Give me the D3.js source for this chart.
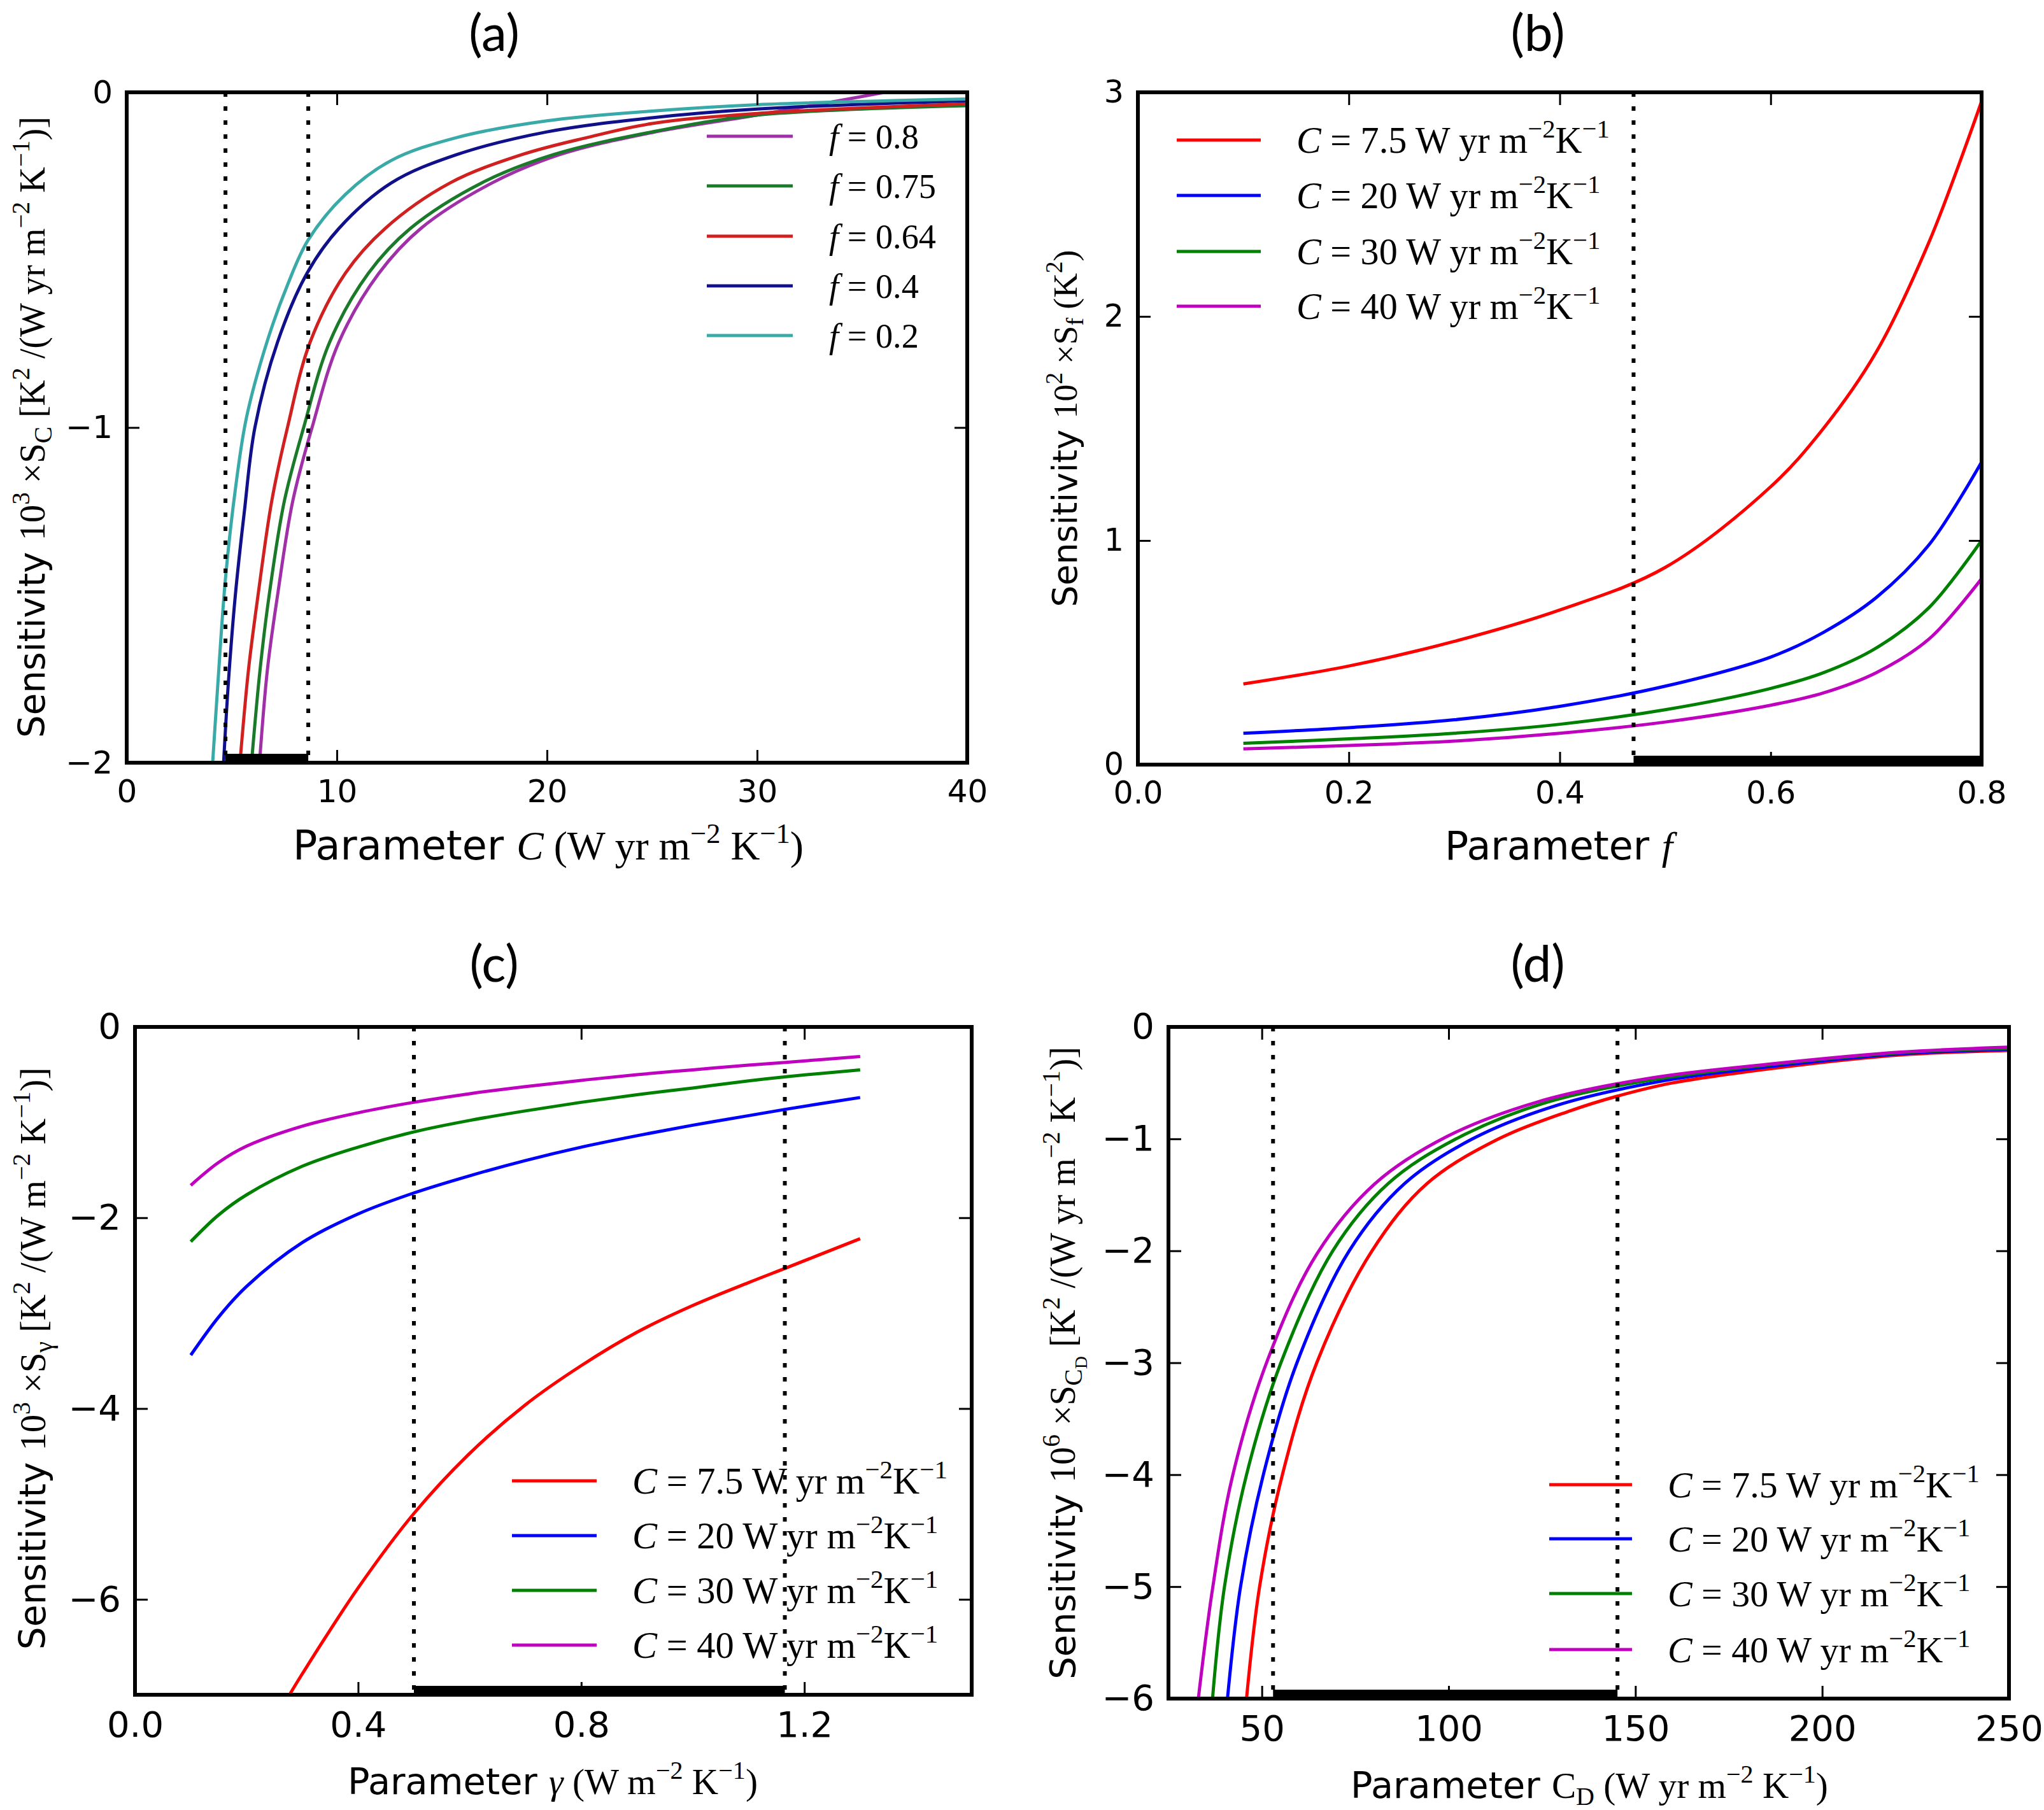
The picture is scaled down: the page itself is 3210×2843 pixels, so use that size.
<!DOCTYPE html>
<html><head><meta charset="utf-8">
<script src="https://cdn.jsdelivr.net/npm/d3@7"></script>
<style>body{margin:0;background:#fff} text{white-space:pre}</style>
</head><body>
<svg id="chart" width="3210" height="2843"></svg>
<script>
// ---------------- DATA ----------------
// Panel (a): sensitivity vs C for several f
const aXTicks = [0, 10, 20, 30, 40];
const aYTicks = [0, -1, -2];
const aLegend = ["0.8", "0.75", "0.64", "0.4", "0.2"];
const a_f08 = [[6.32,-2],[6.7,-1.72],[7.18,-1.5],[7.9,-1.22],[8.82,-1.0],[10.1,-0.745],[12.0,-0.54],[14.0,-0.406],[17.4,-0.27],[20.6,-0.186],[25,-0.12],[30,-0.068],[33,-0.035],[36.5,0.005]];
const a_f075 = [[5.94,-2],[6.35,-1.72],[6.78,-1.5],[7.5,-1.22],[8.42,-1.0],[9.66,-0.745],[11.5,-0.54],[13.5,-0.406],[16.9,-0.27],[20.3,-0.186],[25,-0.118],[30,-0.068],[40,-0.04]];
const a_f064 = [[5.39,-2],[5.8,-1.72],[6.25,-1.5],[6.9,-1.22],[7.65,-1.0],[8.73,-0.745],[10.4,-0.54],[12.3,-0.406],[15.4,-0.27],[18.8,-0.186],[21.9,-0.135],[25,-0.093],[30,-0.063],[40,-0.034]];
const a_f04 = [[4.61,-2],[4.85,-1.75],[5.17,-1.5],[5.6,-1.25],[6.1,-1.0],[7.18,-0.745],[8.58,-0.54],[10.1,-0.406],[12.6,-0.27],[15.7,-0.186],[20,-0.118],[25,-0.076],[30,-0.05],[40,-0.025]];
const a_f02 = [[4.09,-2],[4.3,-1.8],[4.7,-1.45],[5.2,-1.17],[5.7,-0.97],[6.7,-0.74],[7.65,-0.575],[8.64,-0.44],[10.4,-0.305],[12.6,-0.203],[15.7,-0.135],[20,-0.085],[25,-0.056],[30,-0.037],[40,-0.02]];
const aVLines = [4.7, 8.64];
const aBar = [4.7, 8.64];

// Panel (b): sensitivity vs f for several C
const bXTicks = [0.0, 0.2, 0.4, 0.6, 0.8];
const bYTicks = [0, 1, 2, 3];
const bF = [0.1, 0.2, 0.3, 0.4, 0.5, 0.6, 0.65, 0.7, 0.75, 0.8];
const b_C75 = [0.36, 0.44, 0.55, 0.69, 0.88, 1.24, 1.50, 1.84, 2.33, 2.96];
const b_C20 = [0.14, 0.165, 0.20, 0.26, 0.35, 0.48, 0.59, 0.745, 0.98, 1.35];
const b_C30 = [0.095, 0.115, 0.14, 0.18, 0.245, 0.34, 0.41, 0.52, 0.70, 1.0];
const b_C40 = [0.07, 0.085, 0.105, 0.14, 0.19, 0.265, 0.32, 0.41, 0.56, 0.83];
const bVLines = [0.47];
const bBar = [0.47, 0.8];

// Panel (c): sensitivity vs gamma
const cXTicks = [0.0, 0.4, 0.8, 1.2];
const cYTicks = [0, -2, -4, -6];
const cG = [0.1, 0.15, 0.2, 0.3, 0.4, 0.5, 0.6, 0.7, 0.8, 0.9, 1.0, 1.1, 1.17, 1.3];
const c_C40 = [-1.66, -1.42, -1.25, -1.04, -0.90, -0.79, -0.70, -0.625, -0.56, -0.50, -0.45, -0.40, -0.37, -0.31];
const c_C30 = [-2.25, -1.97, -1.76, -1.46, -1.26, -1.10, -0.98, -0.88, -0.79, -0.71, -0.64, -0.565, -0.52, -0.45];
const c_C20 = [-3.44, -3.04, -2.72, -2.26, -1.96, -1.74, -1.56, -1.40, -1.26, -1.14, -1.03, -0.93, -0.86, -0.74];
const cG75 = [0.277, 0.3, 0.4, 0.5, 0.6, 0.7, 0.8, 0.9, 1.0, 1.1, 1.17, 1.3];
const c_C75 = [-7.0, -6.78, -5.88, -5.1, -4.47, -3.96, -3.55, -3.2, -2.92, -2.68, -2.52, -2.22];
const cVLines = [0.5, 1.165];
const cBar = [0.5, 1.165];

// Panel (d): sensitivity vs C_D
const dXTicks = [50, 100, 150, 200, 250];
const dYTicks = [0, -1, -2, -3, -4, -5, -6];
const d_C75 = [[45.9,-6],[49.4,-5],[55.5,-4],[64.7,-3],[79.5,-2],[94.2,-1.4],[113.4,-1.0],[132.5,-0.75],[145,-0.62],[160,-0.5],[191.7,-0.35],[221,-0.25],[250,-0.21]];
const d_C20 = [[40.8,-6],[44.3,-5],[50.4,-4],[59.4,-3],[73.4,-2],[88.2,-1.4],[106.4,-1.0],[129,-0.7],[157.8,-0.48],[190,-0.34],[221,-0.24],[250,-0.2]];
const d_C30 = [[36.8,-6],[40.0,-5],[45.9,-4],[55.1,-3],[69.0,-2],[83.8,-1.4],[102,-1.0],[125.6,-0.68],[155,-0.47],[188,-0.33],[221,-0.23],[250,-0.19]];
const d_C40 = [[33.0,-6],[36.8,-5.02],[42.1,-4.02],[51.6,-2.97],[64.7,-2.03],[80.3,-1.40],[99.5,-0.98],[123.8,-0.67],[153.4,-0.46],[186.5,-0.33],[221,-0.225],[250,-0.18]];
const dVLines = [53, 145.2];
const dBar = [53, 145.2];

const cLegend = ["7.5", "20", "30", "40"];

// ---------------- RENDER ----------------
const SANS = "'DejaVu Sans', sans-serif";
const SERIF = "'Liberation Serif', 'DejaVu Serif', serif";
const TITLE = "Lato, 'Open Sans', sans-serif";
const svg = d3.select('#chart');
svg.append('rect').attr('width', 3210).attr('height', 2843).attr('fill', '#fff');

function rich(g, parts, fs, o) {
  const t = g.append('text').attr('text-anchor', o.anchor || 'middle').attr('fill', '#000');
  const shift = 0.35 * fs;
  if (o.rotate) t.attr('transform', `translate(${o.x + shift},${o.y}) rotate(-90)`);
  else t.attr('transform', `translate(${o.x},${o.y + shift})`);
  let cur = 0;
  parts.forEach(p => {
    const k = p.sup || p.sub ? 0.7 : p.subsub ? 0.5 : 1;
    const off = p.sup ? -0.42 * fs : p.sub ? 0.2 * fs : p.subsub ? 0.34 * fs : 0;
    t.append('tspan').text(p.t)
      .attr('font-family', p.f === 'sans' ? SANS : SERIF)
      .attr('font-style', p.i ? 'italic' : 'normal')
      .attr('font-size', fs * k)
      .attr('dy', off - cur);
    cur = off;
  });
  return t;
}
function fitRich(g, parts, target, o) {
  const t = rich(g, parts, 50, o);
  const len = t.node().getComputedTextLength();
  t.remove();
  const fs = 50 * target / len;
  rich(g, parts, fs, o);
  return fs;
}
const unitsWyr = [{t:' (W yr m'},{t:'−2',sup:1},{t:' K'},{t:'−1',sup:1},{t:')'}];
const legC = v => [{t:'C',i:1},{t:' = '+v+' W yr m'},{t:'−2',sup:1},{t:'K'},{t:'−1',sup:1}];

const colA = ['#a030a8', '#1a7a2a', '#d02020', '#10108a', '#3aaaa8'];
const colC = ['#ff0000', '#0000ff', '#008000', '#bf00bf'];
const zip = (xs, ys) => xs.map((v, i) => [v, ys[i]]);

const panels = [
  { id:'a', l:199, r:1519, t:145, b:1198, xDom:[0,40], yDom:[-2,0], xTicks:aXTicks, yTicks:aYTicks,
    xFmt:d3.format('d'), yFmt:d3.format('d'), tfs:50, title:'(a)', tx:776, ty:80,
    series:[a_f08,a_f075,a_f064,a_f04,a_f02].map((d,i)=>({data:d,color:colA[i]})),
    vlines:aVLines, bar:aBar,
    ylab:{parts:[{t:'Sensitivity ',f:'sans'},{t:'10'},{t:'3',sup:1},{t:' ×S'},{t:'C',sub:1},{t:' [K'},{t:'2',sup:1},{t:' /(W yr m'},{t:'−2',sup:1},{t:' K'},{t:'−1',sup:1},{t:')]'}], x:50, y:671, len:976},
    xlab:{parts:[{t:'Parameter ',f:'sans'},{t:'C',i:1}].concat(unitsWyr), x:861, y:1328, len:802},
    legend:{x1:1110, x2:1245, tx:1302, rows:[214,292,371,449,527], colors:colA,
      labels:aLegend.map(v=>[{t:'f',i:1},{t:' = '+v}]), fitIdx:1, fitLen:168} },
  { id:'b', l:1787, r:3112, t:145, b:1201, xDom:[0,0.8], yDom:[0,3], xTicks:bXTicks, yTicks:bYTicks,
    xFmt:d3.format('.1f'), yFmt:d3.format('d'), tfs:49, title:'(b)', tx:2415, ty:80,
    series:[b_C75,b_C20,b_C30,b_C40].map((d,i)=>({data:zip(bF,d),color:colC[i]})),
    vlines:bVLines, bar:bBar,
    ylab:{parts:[{t:'Sensitivity ',f:'sans'},{t:'10'},{t:'2',sup:1},{t:' ×S'},{t:'f',sub:1},{t:' (K'},{t:'2',sup:1},{t:')'}], x:1672, y:673, len:561},
    xlab:{parts:[{t:'Parameter ',f:'sans'},{t:'f',i:1}], x:2448, y:1328, len:358},
    legend:{x1:1848, x2:1980, tx:2036, rows:[220,307,395,481], colors:colC,
      labels:cLegend.map(legC), fitIdx:0, fitLen:492} },
  { id:'c', l:212, r:1526, t:1613, b:2662, xDom:[0,1.5], yDom:[-7,0], xTicks:cXTicks, yTicks:cYTicks,
    xFmt:d3.format('.1f'), yFmt:d3.format('d'), tfs:56, title:'(c)', tx:776, ty:1542,
    series:[zip(cG75,c_C75),zip(cG,c_C20),zip(cG,c_C30),zip(cG,c_C40)].map((d,i)=>({data:d,color:colC[i]})),
    vlines:cVLines, bar:cBar,
    ylab:{parts:[{t:'Sensitivity ',f:'sans'},{t:'10'},{t:'3',sup:1},{t:' ×S'},{t:'γ',sub:1},{t:' [K'},{t:'2',sup:1},{t:' /(W m'},{t:'−2',sup:1},{t:' K'},{t:'−1',sup:1},{t:')]'}], x:51, y:2134, len:915},
    xlab:{parts:[{t:'Parameter ',f:'sans'},{t:'γ',i:1},{t:' (W m'},{t:'−2',sup:1},{t:' K'},{t:'−1',sup:1},{t:')'}], x:868, y:2798, len:644},
    legend:{x1:804, x2:937, tx:993, rows:[2326,2412,2498,2584], colors:colC,
      labels:cLegend.map(legC), fitIdx:0, fitLen:495} },
  { id:'d', l:1835, r:3155, t:1613, b:2668, xDom:[25,250], yDom:[-6,0], xTicks:dXTicks, yTicks:dYTicks,
    xFmt:d3.format('d'), yFmt:d3.format('d'), tfs:56, title:'(d)', tx:2415, ty:1542,
    series:[d_C75,d_C20,d_C30,d_C40].map((d,i)=>({data:d,color:colC[i]})),
    vlines:dVLines, bar:dBar,
    ylab:{parts:[{t:'Sensitivity ',f:'sans'},{t:'10'},{t:'6',sup:1},{t:' ×S'},{t:'C',sub:1},{t:'D',subsub:1},{t:' [K'},{t:'2',sup:1},{t:' /(W yr m'},{t:'−2',sup:1},{t:' K'},{t:'−1',sup:1},{t:')]'}], x:1668, y:2141, len:994},
    xlab:{parts:[{t:'Parameter ',f:'sans'},{t:'C'},{t:'D',sub:1}].concat(unitsWyr), x:2496, y:2804, len:750},
    legend:{x1:2433, x2:2563, tx:2619, rows:[2332,2417,2503,2591], colors:colC,
      labels:cLegend.map(legC), fitIdx:0, fitLen:490} }
];

panels.forEach(p => {
  const g = svg.append('g');
  const x = d3.scaleLinear().domain(p.xDom).range([p.l, p.r]);
  const y = d3.scaleLinear().domain(p.yDom).range([p.b, p.t]);
  const clipId = 'clip-' + p.id;
  svg.append('clipPath').attr('id', clipId).append('rect')
    .attr('x', p.l).attr('y', p.t).attr('width', p.r - p.l).attr('height', p.b - p.t);

  // curves
  const line = d3.line().x(d => x(d[0])).y(d => y(d[1])).curve(d3.curveCatmullRom.alpha(0.5));
  const cg = g.append('g').attr('clip-path', `url(#${clipId})`);
  p.series.forEach(s => cg.append('path').attr('d', line(s.data))
    .attr('fill', 'none').attr('stroke', s.color).attr('stroke-width', 5).attr('stroke-linejoin', 'round'));

  // dotted vertical lines
  p.vlines.forEach(v => g.append('line').attr('x1', x(v)).attr('x2', x(v)).attr('y1', p.t).attr('y2', p.b)
    .attr('stroke', '#000').attr('stroke-width', 6).attr('stroke-dasharray', '7,15'));

  // thick bar on x axis
  g.append('line').attr('x1', x(p.bar[0])).attr('x2', x(p.bar[1])).attr('y1', p.b - 7).attr('y2', p.b - 7)
    .attr('stroke', '#000').attr('stroke-width', 14);

  // axes
  const styleAxis = sel => {
    sel.select('.domain').remove();
    sel.selectAll('line').attr('stroke', '#000').attr('stroke-width', 3);
    sel.selectAll('text').attr('font-family', SANS).attr('font-size', p.tfs).attr('fill', '#000');
  };
  g.append('g').attr('transform', `translate(0,${p.b})`)
    .call(d3.axisBottom(x).tickValues(p.xTicks).tickFormat(p.xFmt).tickSizeInner(-20).tickSizeOuter(0).tickPadding(26)).call(styleAxis);
  g.append('g').attr('transform', `translate(0,${p.t})`)
    .call(d3.axisTop(x).tickValues(p.xTicks).tickFormat('').tickSizeInner(-20).tickSizeOuter(0)).call(styleAxis);
  g.append('g').attr('transform', `translate(${p.l},0)`)
    .call(d3.axisLeft(y).tickValues(p.yTicks).tickFormat(p.yFmt).tickSizeInner(-20).tickSizeOuter(0).tickPadding(22)).call(styleAxis);
  g.append('g').attr('transform', `translate(${p.r},0)`)
    .call(d3.axisRight(y).tickValues(p.yTicks).tickFormat('').tickSizeInner(-20).tickSizeOuter(0)).call(styleAxis);

  // frame
  g.append('rect').attr('x', p.l).attr('y', p.t).attr('width', p.r - p.l).attr('height', p.b - p.t)
    .attr('fill', 'none').attr('stroke', '#000').attr('stroke-width', 6);

  // title
  g.append('text').attr('x', p.tx).attr('y', p.ty).attr('text-anchor', 'middle')
    .attr('font-family', TITLE).attr('font-size', 80).attr('fill', '#000').text(p.title);

  // axis labels
  fitRich(g, p.ylab.parts, p.ylab.len, {x: p.ylab.x, y: p.ylab.y, rotate: true});
  fitRich(g, p.xlab.parts, p.xlab.len, {x: p.xlab.x, y: p.xlab.y});

  // legend
  const L = p.legend;
  const probe = rich(g, L.labels[L.fitIdx], 50, {x: 0, y: 0, anchor: 'start'});
  const lfs = 50 * L.fitLen / probe.node().getComputedTextLength();
  probe.remove();
  L.rows.forEach((ry, i) => {
    g.append('line').attr('x1', L.x1).attr('x2', L.x2).attr('y1', ry).attr('y2', ry)
      .attr('stroke', L.colors[i]).attr('stroke-width', 5);
    rich(g, L.labels[i], lfs, {x: L.tx, y: ry, anchor: 'start'});
  });
});
</script>
</body></html>
